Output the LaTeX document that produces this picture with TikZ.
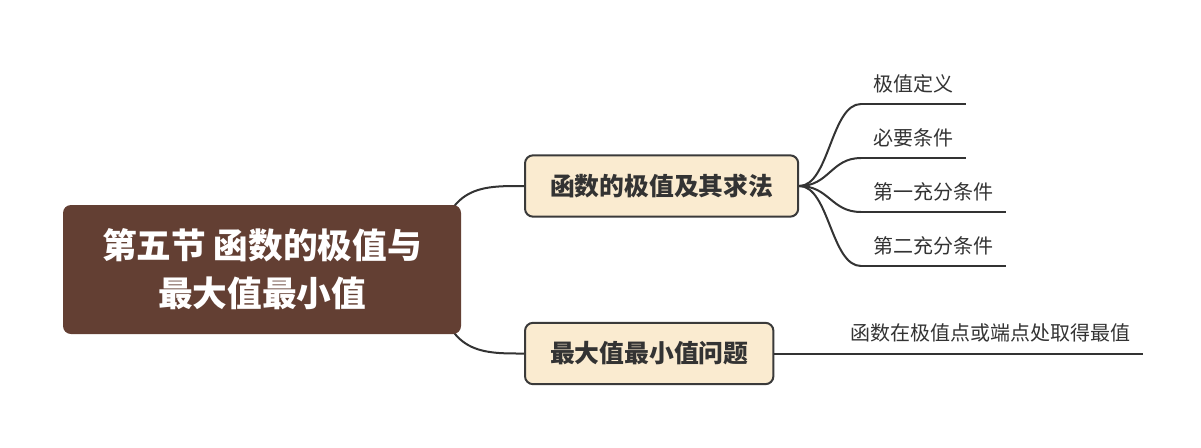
\documentclass[tikz,border=0pt]{standalone}
\usepackage{fontspec}
\setmainfont{Noto Sans CJK SC}
\usetikzlibrary{positioning,backgrounds}
\definecolor{mmroot}{RGB}{99,63,51}
\definecolor{mmcream}{RGB}{250,235,208}
\definecolor{mmedge}{RGB}{58,58,58}
\definecolor{mmline}{RGB}{51,51,51}
\tikzset{
  rootbox/.style={fill=mmroot,rounded corners=6pt,text=white,align=center,
    minimum width=298.5pt,minimum height=96.75pt,inner sep=0pt,
    font=\fontsize{26pt}{36pt}\selectfont\bfseries},
  topicbox/.style={fill=mmcream,draw=mmedge,line width=1.5pt,rounded corners=6pt,
    text=mmline,anchor=west,inner xsep=18.75pt,minimum height=46pt,
    font=\fontsize{18.6pt}{22pt}\selectfont\bfseries},
  leafnode/.style={anchor=south west,text=mmline,inner xsep=9pt,inner ysep=0pt,
    text height=12pt,text depth=9.5pt,font=\fontsize{15pt}{18pt}\selectfont},
  linkline/.style={draw=mmline,line width=1.5pt},
}
\newcommand{\mleaf}[4]{\node[leafnode] (#1) at (#2,#3) {#4};}

\begin{document}
\begin{tikzpicture}[x=0.75pt,y=-0.75pt]
  \useasboundingbox (0,0) rectangle (1201,447);
  \node[rootbox] (root) at (262,269.5) {第五节 函数的极值与\\最大值最小值};
  \node[topicbox] (n1) at (524,186) {函数的极值及其求法};
  \node[topicbox] (n2) at (524,353.5) {最大值最小值问题};
  \mleaf{l1}{861}{104}{极值定义}
  \mleaf{l2}{861}{158}{必要条件}
  \mleaf{l3}{861}{212}{第一充分条件}
  \mleaf{l4}{861}{266}{第二充分条件}
  \mleaf{l5}{838}{353.5}{函数在极值点或端点处取得最值}
  \begin{pgfonlayer}{background}
    \draw[linkline] ([xshift=-20pt]root.east) .. controls +(8,-85) and +(-45,0) .. (n1.west);
    \draw[linkline] ([xshift=-20pt]root.east) .. controls +(8,85) and +(-45,0) .. (n2.west);
  \end{pgfonlayer}
  \foreach \l in {l1,l2,l3,l4}{
    \draw[linkline] (n1.east) .. controls +(30,0) and +(-30,0) .. (\l.south west);
    \draw[linkline] (\l.south west) -- (\l.south east);}
  \draw[linkline] (n2.east) -- (l5.south west) -- (l5.south east);
\end{tikzpicture}
\end{document}
